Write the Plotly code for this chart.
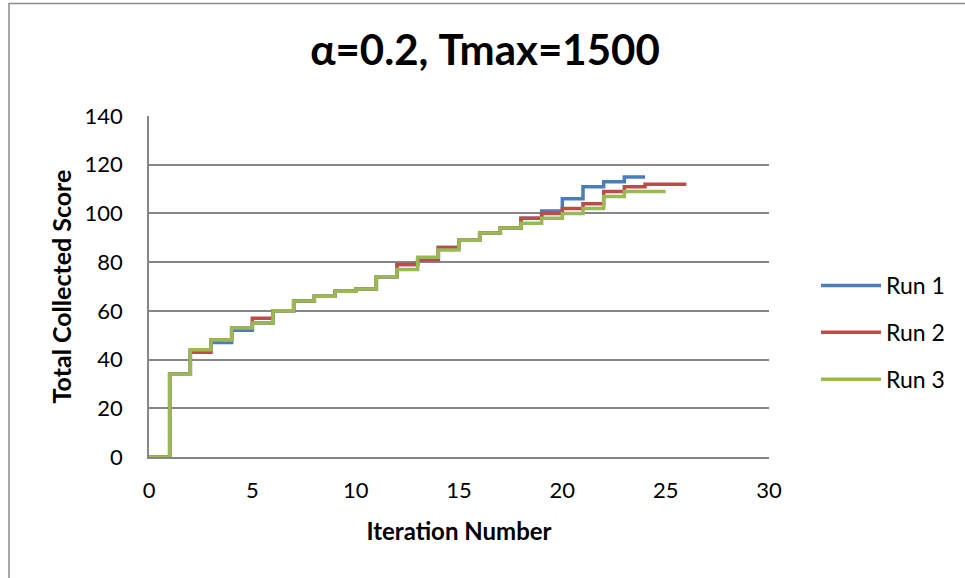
import plotly.graph_objects as go

# Data
iter_run1 = list(range(0, 25))
score_run1 = [0, 34, 44, 47, 52, 55, 60, 64, 66, 68, 69, 74, 79, 81, 86, 89, 92, 94, 98, 101, 106, 111, 113, 115, 115]

iter_run2 = list(range(0, 27))
score_run2 = [0, 34, 43, 48, 53, 57, 60, 64, 66, 68, 69, 74, 79, 81, 86, 89, 92, 94, 98, 100, 102, 104, 109, 111, 112, 112, 112]

iter_run3 = list(range(0, 26))
score_run3 = [0, 34, 44, 48, 53, 55, 60, 64, 66, 68, 69, 74, 77, 82, 85, 89, 92, 94, 96, 98, 100, 102, 107, 109, 109, 109]

series_names = ["Run 1", "Run 2", "Run 3"]
series_colors = ["#4A7EBB", "#BE4B48", "#98B954"]

x_ticks = [0, 5, 10, 15, 20, 25, 30]
y_ticks = [0, 20, 40, 60, 80, 100, 120, 140]

FONT = "Lato, Open Sans, sans-serif"
GRID = "#868686"

fig = go.Figure()
for name, xs, ys, col in zip(series_names,
                             [iter_run1, iter_run2, iter_run3],
                             [score_run1, score_run2, score_run3],
                             series_colors):
    fig.add_trace(go.Scatter(x=xs, y=ys, mode="lines", name=name,
                             line=dict(color=col, width=3.5, shape="hv"),
                             legendgroup=name))

L, R, T, B = 149, 196, 116, 121
W, H = 965, 578
pw, ph = W - L - R, H - T - B

fig.update_layout(
    width=W, height=H,
    margin=dict(l=L, r=R, t=T, b=B),
    paper_bgcolor="white", plot_bgcolor="white",
    font=dict(family=FONT, size=22, color="black"),
    title=dict(text="<b>α=0.2, Tmax=1500</b>", font=dict(family=FONT, size=42, color="black"),
               xref="container", x=485 / W, xanchor="center",
               yref="container", y=1 - 50 / H, yanchor="middle"),
    showlegend=True,
    legend=dict(x=(816 - L) / pw, y=(457 - 264) / ph, xanchor="left", yanchor="top",
                font=dict(family=FONT, size=23, color="black"),
                itemwidth=60,
                traceorder="grouped", tracegroupgap=14,
                bgcolor="rgba(0,0,0,0)"),
    xaxis=dict(range=[0, 30], tickvals=x_ticks, ticktext=[str(v) for v in x_ticks],
               showgrid=False, zeroline=False, showline=True, linecolor=GRID, linewidth=1.5,
               ticks="", ticklabelstandoff=13,
               tickfont=dict(family=FONT, size=22, color="black"),
               title=dict(text="<b>Iteration Number</b>", standoff=21,
                          font=dict(family=FONT, size=24, color="black"))),
    yaxis=dict(range=[0, 140], tickvals=y_ticks, ticktext=[str(v) for v in y_ticks],
               showgrid=True, gridcolor=GRID, gridwidth=1.5, zeroline=False,
               showline=True, linecolor=GRID, linewidth=1.5,
               ticks="", ticklabelstandoff=20,
               tickfont=dict(family=FONT, size=22, color="black"),
               title=dict(text="<b>Total Collected Score</b>", standoff=6,
                          font=dict(family=FONT, size=25, color="black"))),
    shapes=[dict(type="rect", xref="paper", yref="paper",
                 x0=(9 - L) / pw, x1=(975 - L) / pw,
                 y0=(457 - 590) / ph, y1=(457 - 3.5) / ph,
                 line=dict(color="#8C8C8C", width=1.5), fillcolor="rgba(0,0,0,0)",
                 layer="below")],
)

fig.write_html("out.html")
